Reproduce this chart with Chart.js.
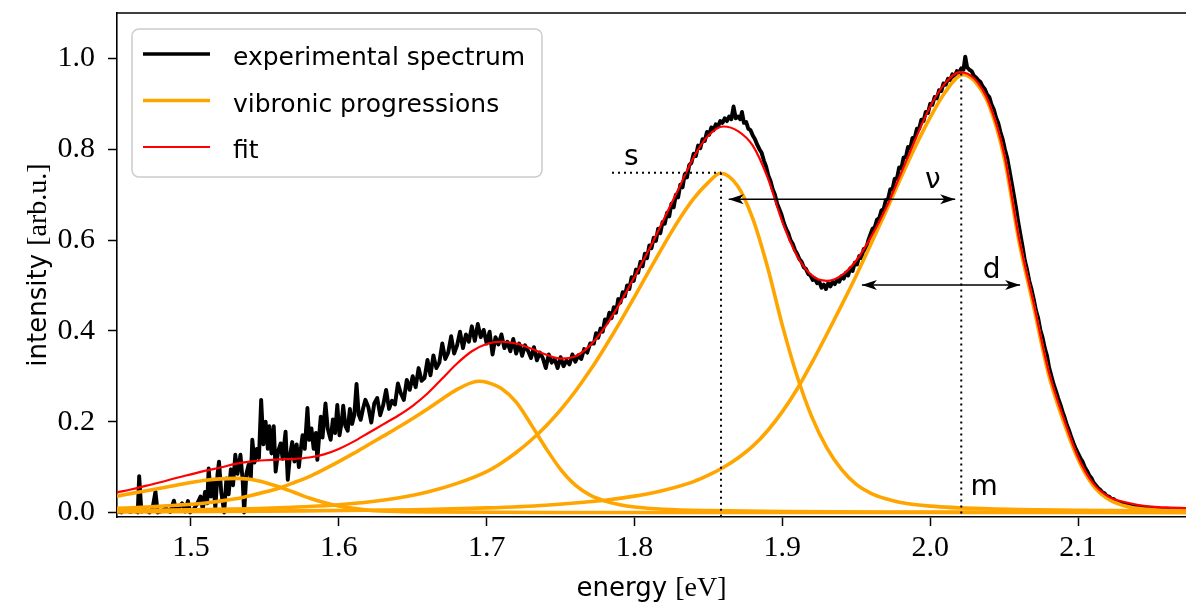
<!DOCTYPE html>
<html>
<head>
<meta charset="utf-8">
<title>vibronic progressions</title>
<script src="https://cdn.jsdelivr.net/npm/chart.js@4/dist/chart.umd.min.js"></script>
<style>
    html, body { margin: 0; padding: 0; background: #ffffff; }
    #wrap { width: 1186px; height: 603px; }
</style>
</head>
<body>
<div id="wrap"><canvas id="spectrum" width="1186" height="603"></canvas></div>
<script>
// axis ranges and ticks
const xRange = [1.45, 2.173];
const yRange = [-0.01, 1.1];
const xTicks = [1.5, 1.6, 1.7, 1.8, 1.9, 2.0, 2.1];
const yTicks = [0.0, 0.2, 0.4, 0.6, 0.8, 1.0];

// measured spectrum [energy eV, intensity]
const spectrum = [
    [1.450,0.003],[1.453,0.000],[1.456,0.006],[1.459,0.001],[1.462,0.004],[1.464,0.000],[1.465,0.080],[1.4665,0.002],
    [1.469,0.005],[1.472,0.000],[1.474,0.008],[1.476,0.046],[1.4775,0.000],[1.480,0.003],[1.483,0.009],[1.486,0.001],
    [1.4885,0.026],[1.490,0.004],[1.492,0.012],[1.494,0.020],[1.496,0.002],[1.498,0.025],[1.4995,0.000],[1.502,0.008],
    [1.504,0.018],[1.5065,0.035],[1.508,0.006],[1.5095,0.045],[1.511,0.020],[1.512,0.097],[1.5135,0.035],[1.515,0.070],
    [1.5165,0.010],[1.518,0.085],[1.519,0.112],[1.5205,0.045],[1.5225,0.000],[1.524,0.075],[1.5255,0.040],[1.527,0.095],
    [1.5285,0.060],[1.530,0.127],[1.5315,0.085],[1.5335,0.127],[1.535,0.070],[1.536,0.000],[1.5375,0.085],[1.539,0.105],
    [1.5405,0.075],[1.5415,0.160],[1.543,0.110],[1.5445,0.140],[1.546,0.120],[1.5475,0.248],[1.549,0.150],[1.5505,0.200],
    [1.552,0.140],[1.553,0.190],[1.5545,0.130],[1.556,0.190],[1.5573,0.090],[1.559,0.135],[1.5607,0.152],[1.562,0.118],
    [1.564,0.178],[1.5655,0.072],[1.567,0.125],[1.5685,0.155],[1.570,0.112],[1.5715,0.150],[1.573,0.100],[1.5745,0.145],
    [1.5755,0.170],[1.577,0.140],[1.5788,0.230],[1.580,0.160],[1.5815,0.185],[1.583,0.140],[1.5845,0.175],[1.5855,0.116],
    [1.587,0.180],[1.5878,0.211],[1.589,0.165],[1.591,0.240],[1.5925,0.185],[1.5945,0.160],[1.596,0.205],[1.5975,0.175],
    [1.599,0.237],[1.6005,0.170],[1.602,0.200],[1.603,0.235],[1.6045,0.190],[1.606,0.180],[1.6075,0.228],[1.609,0.195],
    [1.6105,0.215],[1.612,0.283],[1.6135,0.215],[1.6148,0.204],[1.6165,0.230],[1.618,0.248],
    [1.620,0.232],[1.622,0.198],[1.624,0.240],[1.626,0.252],[1.628,0.214],[1.630,0.236],[1.632,0.270],[1.634,0.228],
    [1.636,0.246],[1.638,0.238],[1.640,0.284],[1.642,0.262],[1.644,0.248],[1.646,0.292],[1.648,0.270],[1.650,0.300],
    [1.652,0.276],[1.654,0.318],[1.656,0.290],[1.658,0.296],[1.660,0.336],[1.662,0.302],[1.664,0.346],[1.666,0.318],
    [1.668,0.330],[1.670,0.372],[1.672,0.338],[1.674,0.352],[1.676,0.388],[1.678,0.350],[1.680,0.368],[1.682,0.398],
    [1.684,0.362],[1.686,0.392],[1.688,0.376],[1.690,0.410],[1.692,0.378],[1.694,0.415],[1.696,0.386],[1.698,0.402],
    [1.700,0.372],[1.702,0.398],[1.704,0.348],[1.706,0.386],[1.708,0.370],[1.710,0.392],[1.712,0.362],[1.714,0.376],
    [1.716,0.355],[1.718,0.382],[1.720,0.350],[1.722,0.372],[1.724,0.345],[1.726,0.368],[1.728,0.356],[1.730,0.340],
    [1.732,0.364],[1.734,0.335],[1.736,0.352],[1.738,0.340],[1.740,0.318],[1.742,0.348],[1.744,0.330],[1.746,0.338],
    [1.748,0.318],[1.750,0.342],[1.752,0.322],[1.754,0.335],[1.756,0.326],[1.758,0.348],[1.760,0.332],[1.762,0.346],
    [1.764,0.338],[1.766,0.360],[1.768,0.352],[1.770,0.372],
    [1.7725,0.372],[1.774,0.395],[1.7755,0.385],[1.777,0.405],[1.7785,0.398],[1.780,0.425],[1.7815,0.418],
    [1.783,0.440],[1.7845,0.428],[1.786,0.452],[1.7875,0.440],[1.789,0.470],[1.7905,0.462],[1.792,0.485],[1.7935,0.476],
    [1.795,0.500],[1.7965,0.492],[1.798,0.518],[1.7995,0.510],[1.801,0.535],[1.8025,0.528],[1.804,0.552],[1.8055,0.542],
    [1.807,0.570],[1.8085,0.560],[1.810,0.588],[1.8115,0.582],[1.813,0.605],[1.8145,0.598],[1.816,0.625],[1.8175,0.615],
    [1.819,0.640],[1.8205,0.636],[1.822,0.660],[1.8235,0.652],[1.825,0.680],[1.8265,0.672],[1.828,0.700],[1.8295,0.694],
    [1.831,0.722],[1.8325,0.716],[1.834,0.745],[1.8355,0.738],[1.837,0.765],[1.8385,0.770],[1.840,0.790],[1.8415,0.785],
    [1.843,0.808],[1.8445,0.802],[1.846,0.822],[1.8475,0.818],[1.849,0.838],[1.8505,0.832],[1.852,0.848],[1.8535,0.842],
    [1.855,0.855],[1.8565,0.850],[1.858,0.862],[1.8595,0.858],[1.861,0.868],[1.8625,0.862],[1.864,0.872],[1.8655,0.866],
    [1.867,0.894],[1.8685,0.868],[1.870,0.872],[1.8715,0.866],[1.8727,0.882],[1.874,0.858],[1.8755,0.860],[1.877,0.845],
    [1.8785,0.842],[1.880,0.830],
    [1.8815,0.822],[1.883,0.810],[1.8845,0.800],[1.886,0.792],[1.8875,0.775],[1.889,0.762],[1.8905,0.742],[1.892,0.730],
    [1.8935,0.712],[1.895,0.700],[1.8965,0.680],[1.898,0.668],[1.8995,0.655],[1.901,0.638],[1.9025,0.625],[1.904,0.615],
    [1.9055,0.600],[1.907,0.592],[1.9085,0.578],[1.910,0.570],[1.9115,0.558],[1.913,0.552],[1.9145,0.540],[1.916,0.536],
    [1.9175,0.525],[1.919,0.522],[1.9205,0.512],[1.922,0.515],[1.9235,0.505],[1.925,0.508],[1.9265,0.495],[1.928,0.502],
    [1.9295,0.492],[1.931,0.505],[1.9325,0.498],[1.934,0.508],[1.9355,0.503],[1.937,0.512],[1.9385,0.508],[1.940,0.520],
    [1.9415,0.515],[1.943,0.528],[1.9445,0.522],[1.946,0.538],[1.9475,0.532],[1.949,0.550],[1.9505,0.546],[1.952,0.565],
    [1.9535,0.560],[1.955,0.580],[1.9565,0.578],[1.958,0.598],
    [1.9595,0.612],[1.961,0.625],[1.9625,0.628],[1.964,0.645],[1.9655,0.648],[1.967,0.665],[1.9685,0.668],[1.970,0.688],
    [1.9715,0.690],[1.973,0.712],[1.9745,0.712],[1.976,0.735],[1.9775,0.735],[1.979,0.760],[1.9805,0.758],[1.982,0.782],
    [1.9835,0.782],[1.985,0.805],[1.9865,0.802],[1.988,0.825],[1.9895,0.825],[1.991,0.845],[1.9925,0.845],[1.994,0.865],
    [1.9955,0.862],[1.997,0.882],[1.9985,0.880],[2.000,0.900],[2.0015,0.898],[2.003,0.915],[2.0045,0.912],[2.006,0.930],
    [2.0075,0.928],[2.009,0.945],[2.0105,0.942],[2.012,0.955],[2.0135,0.952],[2.015,0.965],[2.0165,0.960],[2.018,0.972],
    [2.0195,0.968],[2.021,0.978],[2.0225,0.975],[2.0237,1.004],[2.025,0.980],[2.0265,0.975],[2.028,0.972],
    [2.0295,0.962],[2.031,0.958],[2.0325,0.952],[2.034,0.948],[2.0355,0.938],[2.037,0.932],[2.0385,0.920],[2.040,0.915],
    [2.0415,0.898],[2.043,0.888],[2.0445,0.870],[2.046,0.858],[2.0475,0.838],[2.049,0.822],[2.0505,0.800],[2.052,0.782],
    [2.0535,0.755],[2.055,0.728],[2.0565,0.700],[2.058,0.672],[2.0595,0.640],[2.061,0.612],[2.0625,0.585],[2.064,0.555],
    [2.0655,0.535],[2.067,0.510],[2.0685,0.492],[2.070,0.470],[2.0715,0.445],[2.073,0.428],[2.0745,0.402],[2.076,0.385],
    [2.0775,0.362],[2.079,0.345],[2.0805,0.318],[2.082,0.300],[2.0835,0.282],[2.085,0.268],[2.0865,0.252],[2.088,0.238],
    [2.0895,0.222],[2.091,0.208],[2.0925,0.192],[2.094,0.180],[2.0955,0.165],[2.097,0.152],[2.0985,0.140],[2.100,0.130],
    [2.1015,0.120],[2.103,0.112],[2.1045,0.100],[2.106,0.092],[2.1075,0.082],[2.109,0.076],[2.1105,0.066],[2.112,0.060],
    [2.1135,0.054],[2.115,0.050],[2.1165,0.044],[2.118,0.042],[2.1195,0.036],[2.121,0.035],[2.1225,0.030],[2.124,0.030],
    [2.126,0.024],[2.128,0.023],[2.130,0.019],[2.133,0.018],[2.136,0.014],[2.139,0.013],[2.142,0.010],[2.145,0.010],
    [2.148,0.007],[2.151,0.008],[2.155,0.006],[2.159,0.006],[2.163,0.005],[2.167,0.005],[2.171,0.004],[2.175,0.004]
];

// vibronic progressions, one array per band
const progA = [
    [1.45,0.036],[1.46,0.042],[1.47,0.048],[1.48,0.054],[1.49,0.060],[1.50,0.066],[1.51,0.071],[1.52,0.074],
    [1.53,0.075],[1.54,0.073],[1.55,0.066],[1.56,0.056],[1.57,0.044],[1.58,0.032],[1.59,0.022],[1.60,0.014],
    [1.61,0.009],[1.62,0.005],[1.64,0.002],[1.67,0.001],[1.75,0.000],[2.18,0.000]
];
const progB = [
    [1.45,0.009],[1.47,0.012],[1.49,0.016],[1.51,0.021],[1.52,0.025],[1.53,0.030],[1.54,0.037],[1.55,0.045],
    [1.56,0.054],[1.57,0.066],[1.58,0.079],[1.59,0.095],[1.60,0.112],[1.61,0.130],[1.62,0.149],[1.63,0.168],
    [1.64,0.187],[1.65,0.207],[1.66,0.228],[1.67,0.250],[1.68,0.271],[1.69,0.286],[1.695,0.289],[1.70,0.287],
    [1.71,0.273],[1.72,0.243],[1.73,0.194],[1.74,0.142],[1.75,0.095],[1.76,0.060],[1.77,0.038],[1.78,0.025],
    [1.79,0.017],[1.80,0.012],[1.82,0.007],[1.85,0.004],[1.90,0.002],[2.00,0.001],[2.18,0.000]
];
const progC = [
    [1.45,0.004],[1.50,0.006],[1.55,0.009],[1.58,0.013],[1.60,0.017],[1.62,0.023],[1.64,0.032],[1.66,0.045],
    [1.68,0.064],[1.70,0.090],[1.71,0.109],[1.72,0.132],[1.73,0.159],[1.74,0.190],[1.75,0.226],[1.76,0.267],
    [1.77,0.313],[1.78,0.364],[1.79,0.418],[1.80,0.475],[1.81,0.533],[1.82,0.590],[1.83,0.644],[1.84,0.691],
    [1.85,0.727],[1.858,0.747],[1.87,0.718],[1.88,0.647],[1.89,0.540],[1.90,0.412],[1.91,0.300],[1.92,0.210],
    [1.93,0.143],[1.94,0.095],[1.95,0.062],[1.96,0.042],[1.97,0.030],[1.98,0.022],[2.00,0.014],[2.04,0.008],
    [2.10,0.005],[2.18,0.003]
];
const progD = [
    [1.45,0.001],[1.55,0.003],[1.65,0.006],[1.70,0.010],[1.74,0.016],[1.78,0.027],[1.80,0.036],[1.82,0.049],
    [1.84,0.068],[1.85,0.082],[1.86,0.099],[1.87,0.120],[1.88,0.146],[1.89,0.180],[1.90,0.222],[1.91,0.272],
    [1.92,0.330],[1.93,0.392],[1.94,0.456],[1.95,0.522],[1.96,0.592],[1.97,0.663],[1.98,0.736],[1.99,0.806],
    [2.00,0.870],[2.01,0.925],[2.022,0.964],[2.03,0.950],[2.04,0.895],[2.05,0.782],[2.06,0.598],[2.07,0.452],
    [2.08,0.305],[2.09,0.202],[2.10,0.117],[2.11,0.060],[2.12,0.030],[2.13,0.016],[2.14,0.009],[2.15,0.006],
    [2.18,0.003]
];

// total fit
const fitCurve = [
    [1.45,0.044],[1.46,0.051],[1.47,0.059],[1.48,0.067],[1.49,0.076],[1.50,0.084],[1.51,0.092],[1.52,0.099],
    [1.53,0.107],[1.54,0.112],[1.55,0.115],[1.56,0.117],[1.57,0.118],[1.58,0.121],[1.59,0.128],[1.60,0.140],
    [1.61,0.156],[1.62,0.175],[1.63,0.194],[1.64,0.213],[1.65,0.235],[1.66,0.262],[1.67,0.295],[1.68,0.328],
    [1.69,0.355],[1.70,0.371],[1.71,0.376],[1.72,0.372],[1.73,0.361],[1.74,0.348],[1.75,0.339],[1.76,0.344],
    [1.77,0.368],[1.78,0.408],[1.79,0.460],[1.80,0.519],[1.81,0.580],[1.82,0.647],[1.83,0.714],[1.84,0.782],
    [1.85,0.830],[1.86,0.850],[1.87,0.840],[1.88,0.808],[1.89,0.738],[1.90,0.640],[1.91,0.565],[1.92,0.522],
    [1.93,0.510],[1.94,0.522],[1.95,0.555],[1.96,0.607],[1.97,0.670],[1.98,0.745],[1.99,0.822],[2.00,0.894],
    [2.01,0.945],[2.02,0.970],[2.03,0.955],[2.04,0.900],[2.05,0.790],[2.06,0.605],[2.07,0.460],[2.08,0.312],
    [2.09,0.210],[2.10,0.122],[2.11,0.065],[2.12,0.036],[2.13,0.024],[2.14,0.017],[2.15,0.013],[2.16,0.011],
    [2.18,0.009]
];

// guide lines and arrows (data coordinates)
const sLevel = [[1.7848,0.748],[1.8585,0.748]];
const sDrop = [[1.8585,0.748],[1.8585,-0.01]];
const mDrop = [[2.021,0.967],[2.021,-0.01]];
const nuArrow = [[1.8637,0.690],[2.0169,0.690]];
const dArrow = [[1.9538,0.501],[2.0608,0.501]];
const markText = ['s', 'ν', 'd', 'm'];
const markAt = [[1.7978,0.766],[2.0017,0.714],[2.0416,0.516],[2.0365,0.039]];

const legendText = ['experimental spectrum', 'vibronic progressions', 'fit'];

const SANS = '"DejaVu Sans", sans-serif';
const SERIF = '"Liberation Serif", serif';

function toPts(arr) {
    return arr.map(function (p) { return { x: p[0], y: p[1] }; });
}

function curve(data, color, width, order, extra) {
    return Object.assign({
        data: toPts(data),
        borderColor: color,
        borderWidth: width,
        pointRadius: 0,
        fill: false,
        order: order
    }, extra || {});
}

const ORANGE = '#ffa500';
const smooth = { cubicInterpolationMode: 'monotone', tension: 0.4 };
const dotted = { borderDash: [2, 4], borderCapStyle: 'butt' };

const datasets = [
    curve(spectrum, '#000000', 3.9, 3, { tension: 0, borderJoinStyle: 'round' }),
    curve(progA, ORANGE, 3.6, 2, smooth),
    curve(progB, ORANGE, 3.6, 2, smooth),
    curve(progC, ORANGE, 3.6, 2, smooth),
    curve(progD, ORANGE, 3.6, 2, smooth),
    curve(fitCurve, '#ff0000', 2.2, 1, smooth),
    curve(sLevel, '#000000', 2, 0, dotted),
    curve(sDrop, '#000000', 2, 0, dotted),
    curve(mDrop, '#000000', 2, 0, dotted),
    curve(nuArrow, '#000000', 1.5, 0),
    curve(dArrow, '#000000', 1.5, 0)
];
const legendSets = [0, 1, 5];

function drawHead(ctx, tip, from) {
    const ang = Math.atan2(tip.y - from.y, tip.x - from.x);
    ctx.save();
    ctx.translate(tip.x, tip.y);
    ctx.rotate(ang);
    ctx.beginPath();
    ctx.moveTo(0, 0);
    ctx.lineTo(-15, -5);
    ctx.lineTo(-11, 0);
    ctx.lineTo(-15, 5);
    ctx.closePath();
    ctx.fill();
    ctx.restore();
}

function drawMixed(ctx, parts, x, y) {
    let total = 0;
    const widths = parts.map(function (p) {
        ctx.font = p[1];
        const w = ctx.measureText(p[0]).width;
        total += w;
        return w;
    });
    let pos = x - total / 2;
    parts.forEach(function (p, i) {
        ctx.font = p[1];
        ctx.fillText(p[0], pos, y);
        pos += widths[i];
    });
}

const decorations = {
    id: 'decorations',
    afterDatasetsDraw(chart) {
        const ctx = chart.ctx;
        const sx = chart.scales.x, sy = chart.scales.y;
        const px = function (p) { return { x: sx.getPixelForValue(p[0]), y: sy.getPixelForValue(p[1]) }; };
        ctx.save();
        ctx.fillStyle = '#000';
        [nuArrow, dArrow].forEach(function (a) {
            const p0 = px(a[0]), p1 = px(a[1]);
            drawHead(ctx, p0, p1);
            drawHead(ctx, p1, p0);
        });
        ctx.font = '28px ' + SANS;
        ctx.textAlign = 'center';
        ctx.textBaseline = 'alphabetic';
        markText.forEach(function (t, i) {
            const p = px(markAt[i]);
            ctx.fillText(t, p.x, p.y);
        });
        ctx.restore();
    },
    afterDraw(chart) {
        const ctx = chart.ctx;
        const area = chart.chartArea;
        ctx.save();

        // top spine
        ctx.strokeStyle = '#000';
        ctx.lineWidth = 1.6;
        ctx.beginPath();
        ctx.moveTo(area.left, area.top);
        ctx.lineTo(area.right, area.top);
        ctx.stroke();

        // legend box
        const bx = area.left + 15, by = area.top + 16, bw = 410, bh = 148, r = 7;
        ctx.beginPath();
        ctx.moveTo(bx + r, by);
        ctx.arcTo(bx + bw, by, bx + bw, by + bh, r);
        ctx.arcTo(bx + bw, by + bh, bx, by + bh, r);
        ctx.arcTo(bx, by + bh, bx, by, r);
        ctx.arcTo(bx, by, bx + bw, by, r);
        ctx.closePath();
        ctx.fillStyle = 'rgba(255,255,255,0.8)';
        ctx.fill();
        ctx.strokeStyle = '#cccccc';
        ctx.lineWidth = 1.5;
        ctx.stroke();

        ctx.font = '25px ' + SANS;
        ctx.textAlign = 'left';
        ctx.textBaseline = 'alphabetic';
        legendSets.forEach(function (di, i) {
            const ds = chart.data.datasets[di];
            const rowY = area.top + 41 + i * 46.5;
            ctx.strokeStyle = ds.borderColor;
            ctx.lineWidth = Math.min(ds.borderWidth, 3.6);
            ctx.beginPath();
            ctx.moveTo(area.left + 26, rowY);
            ctx.lineTo(area.left + 93, rowY);
            ctx.stroke();
            ctx.fillStyle = '#000';
            ctx.fillText(legendText[i], area.left + 116, rowY + 11);
        });

        // axis titles
        ctx.fillStyle = '#000';
        drawMixed(ctx, [['energy ', '26px ' + SANS], ['[eV]', '28px ' + SERIF]], (area.left + area.right) / 2, 596);
        ctx.translate(46, (area.top + area.bottom) / 2);
        ctx.rotate(-Math.PI / 2);
        drawMixed(ctx, [['intensity ', '26px ' + SANS], ['[arb.u.]', '28px ' + SERIF]], 0, 0);
        ctx.restore();
    }
};

const tickFont = { family: SERIF, size: 30 };

new Chart(document.getElementById('spectrum'), {
    type: 'line',
    data: { datasets: datasets },
    options: {
        responsive: false,
        animation: false,
        layout: { padding: { top: 13, left: 0, right: 0, bottom: 0 } },
        plugins: { legend: { display: false }, tooltip: { enabled: false } },
        scales: {
            x: {
                type: 'linear',
                position: 'bottom',
                min: xRange[0],
                max: xRange[1],
                afterBuildTicks: function (s) { s.ticks = xTicks.map(function (v) { return { value: v }; }); },
                afterFit: function (s) { s.height = 86; s.paddingLeft = 0; s.paddingRight = 0; },
                ticks: {
                    font: tickFont, color: '#000', padding: 4, maxRotation: 0, autoSkip: false,
                    callback: function (v) { return v.toFixed(1); }
                },
                grid: { drawOnChartArea: false, tickLength: 9, tickColor: '#000', tickWidth: 1.5 },
                border: { color: '#000', width: 1.6 }
            },
            y: {
                type: 'linear',
                position: 'left',
                min: yRange[0],
                max: yRange[1],
                afterBuildTicks: function (s) { s.ticks = yTicks.map(function (v) { return { value: v }; }); },
                afterFit: function (s) { s.width = 117; s.paddingTop = 0; s.paddingBottom = 0; },
                ticks: {
                    font: tickFont, color: '#000', padding: 13, autoSkip: false,
                    callback: function (v) { return v.toFixed(1); }
                },
                grid: { drawOnChartArea: false, tickLength: 9, tickColor: '#000', tickWidth: 1.5 },
                border: { color: '#000', width: 1.6 }
            }
        }
    },
    plugins: [decorations]
});
</script>
</body>
</html>
